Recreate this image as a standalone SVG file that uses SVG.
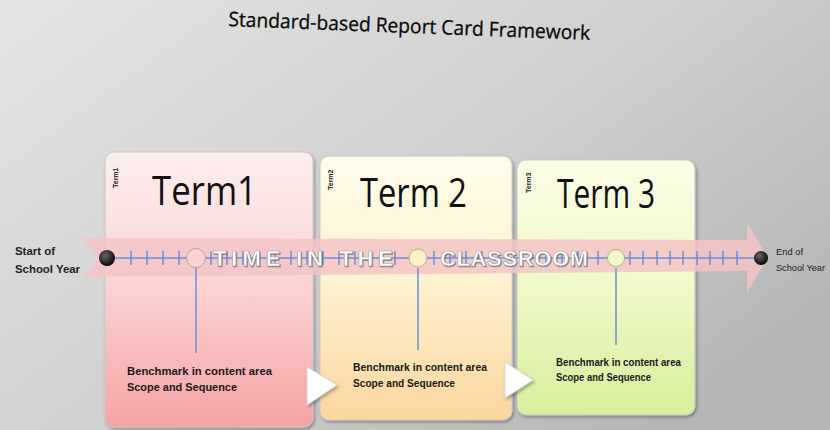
<svg xmlns="http://www.w3.org/2000/svg" width="830" height="430" viewBox="0 0 830 430">
  <defs>
    <linearGradient id="bg" x1="0" y1="0" x2="1" y2="0.7">
      <stop offset="0" stop-color="#e4e4e4"/>
      <stop offset="0.55" stop-color="#d0d0d0"/>
      <stop offset="1" stop-color="#b6b6b6"/>
    </linearGradient>
    <linearGradient id="g1" x1="0" y1="0" x2="0" y2="1">
      <stop offset="0" stop-color="#fdeeee"/>
      <stop offset="0.45" stop-color="#fbd6d6"/>
      <stop offset="1" stop-color="#f6a3a4"/>
    </linearGradient>
    <linearGradient id="g2" x1="0" y1="0" x2="0" y2="1">
      <stop offset="0" stop-color="#fffdeb"/>
      <stop offset="0.45" stop-color="#fdf3d2"/>
      <stop offset="1" stop-color="#fbd69e"/>
    </linearGradient>
    <linearGradient id="g3" x1="0" y1="0" x2="0" y2="1">
      <stop offset="0" stop-color="#fbfde6"/>
      <stop offset="0.45" stop-color="#f2f9cc"/>
      <stop offset="1" stop-color="#d6ef9c"/>
    </linearGradient>
    <radialGradient id="dot" cx="0.4" cy="0.35" r="0.7">
      <stop offset="0" stop-color="#666"/>
      <stop offset="1" stop-color="#000"/>
    </radialGradient>
    <filter id="sh" x="-10%" y="-10%" width="125%" height="125%">
      <feDropShadow dx="1.5" dy="2" stdDeviation="1.5" flood-color="#000" flood-opacity="0.3"/>
    </filter>
    <filter id="tsh" x="-5%" y="-20%" width="110%" height="150%">
      <feDropShadow dx="0.8" dy="1" stdDeviation="0.6" flood-color="#555" flood-opacity="0.7"/>
    </filter>
  </defs>
  <style>
    .card { stroke: #c8c8c8; stroke-width: 1; filter: url(#sh); }
    .big { font-family: "Open Sans", "Liberation Sans", sans-serif; font-size: 40px; fill: #111; }
    .small { font-family: "Liberation Sans", sans-serif; font-size: 7px; font-weight: bold; fill: #222; }
    .bm { font-family: "Liberation Sans", sans-serif; font-size: 11px; font-weight: bold; fill: #1a1a1a; }
    .side { font-family: "Liberation Sans", sans-serif; font-size: 11px; font-weight: bold; fill: #222; }
    .sideR { font-family: "Liberation Sans", sans-serif; font-size: 9.5px; fill: #222; }
    .tl { stroke: #6f8fd2; stroke-width: 1.5; fill: none; }
    .time { font-family: "Liberation Sans", sans-serif; font-size: 22px; font-weight: bold; fill: #ffffff; stroke: #a0a0a0; stroke-width: 0.6; filter: url(#tsh); }
    .tri { fill: #ffffff; stroke: #d8d8d8; stroke-width: 1; filter: url(#sh); }
  </style>
  <rect x="0" y="0" width="830" height="430" fill="url(#bg)"/>

  <g id="title">
    <text x="228" y="33" transform="rotate(2.2 409 35)" font-family="Open Sans, Liberation Sans, sans-serif" font-size="20" fill="#0a0a0a" stroke="#0a0a0a" stroke-width="0.3" textLength="362" lengthAdjust="spacingAndGlyphs">Standard-based Report Card Framework</text>
  </g>

  <g id="term1">
    <rect class="card" x="105" y="152" width="208" height="275" rx="9" fill="url(#g1)"/>
    <text class="small" transform="translate(118 188) rotate(-90)">Term1</text>
    <text class="big" x="152" y="205" textLength="105" lengthAdjust="spacingAndGlyphs">Term1</text>
    <text class="bm" x="127" y="375" textLength="145" lengthAdjust="spacingAndGlyphs">Benchmark in content area</text>
    <text class="bm" x="127" y="391" textLength="110" lengthAdjust="spacingAndGlyphs">Scope and Sequence</text>
  </g>

  <g id="term2">
    <rect class="card" x="320" y="156" width="192" height="264" rx="9" fill="url(#g2)"/>
    <text class="small" transform="translate(333 190) rotate(-90)">Term2</text>
    <text class="big" x="360" y="207" textLength="107" lengthAdjust="spacingAndGlyphs">Term 2</text>
    <text class="bm" x="353" y="371" textLength="134" lengthAdjust="spacingAndGlyphs">Benchmark in content area</text>
    <text class="bm" x="353" y="387" textLength="102" lengthAdjust="spacingAndGlyphs">Scope and Sequence</text>
  </g>

  <g id="term3">
    <rect class="card" x="517" y="160" width="178" height="255" rx="9" fill="url(#g3)"/>
    <text class="small" transform="translate(531 193) rotate(-90)">Term3</text>
    <text class="big" x="557" y="208" textLength="98" lengthAdjust="spacingAndGlyphs">Term 3</text>
    <text class="bm" x="556" y="366" textLength="125" lengthAdjust="spacingAndGlyphs">Benchmark in content area</text>
    <text class="bm" x="556" y="381" textLength="95" lengthAdjust="spacingAndGlyphs">Scope and Sequence</text>
  </g>

  <g id="arrow-band">
    <polygon points="83,238 747,240 747,223 768,257 747,293 747,271 83,277 99,258" fill="#f3c4c6" fill-opacity="0.85"/>
  </g>

  <g id="connectors">
    <line class="tl" x1="107" y1="258" x2="762" y2="258"/>
    <path class="tl" d="M131 251v14M147 251v14M163 251v14M179 251v14M211 251v14M227 251v14M243 251v14M259 251v14M275 251v14M291 251v14M307 251v14M323 251v14M339 251v14M355 251v14M371 251v14M395 251v14M434 251v14M450 251v14M466 251v14M482 251v14M498 251v14M514 251v14M530 251v14M546 251v14M562 251v14M578 251v14M598 251v14M630 251v14M643 251v14M657 251v14M670 251v14M683 251v14M697 251v14M710 251v14M723 251v14M737 251v14"/>
    <line class="tl" x1="196" y1="268" x2="196" y2="353"/>
    <line class="tl" x1="418" y1="268" x2="418" y2="350"/>
    <line class="tl" x1="616" y1="268" x2="616" y2="345"/>
    <polygon class="tri" points="307,367 337,385 307,405"/>
    <polygon class="tri" points="505,362 533,380 505,398"/>
  </g>

  <g id="band-text">
    <text class="time" x="213" y="266" textLength="180" lengthAdjust="spacing">TIME IN THE</text>
    <text class="time" x="440" y="266" textLength="148" lengthAdjust="spacing">CLASSROOM</text>
  </g>

  <g id="start">
    <circle cx="107" cy="258" r="8" fill="url(#dot)"/>
    <text class="side" x="15" y="255" textLength="40" lengthAdjust="spacingAndGlyphs">Start of</text>
    <text class="side" x="15" y="273" textLength="65" lengthAdjust="spacingAndGlyphs">School Year</text>
  </g>

  <g id="end">
    <circle cx="761" cy="258" r="7" fill="url(#dot)"/>
    <text class="sideR" x="776" y="255" textLength="27" lengthAdjust="spacingAndGlyphs">End of</text>
    <text class="sideR" x="776" y="271" textLength="49" lengthAdjust="spacingAndGlyphs">School Year</text>
  </g>

  <g id="milestones">
    <circle cx="196" cy="258" r="9.5" fill="#f9d2d2" stroke="#c79a9a" stroke-width="1"/>
    <circle cx="418" cy="258" r="9" fill="#fbf3c8" stroke="#b9ae82" stroke-width="1"/>
    <circle cx="616" cy="258" r="8.5" fill="#f3f8cc" stroke="#a9b37e" stroke-width="1"/>
  </g>
</svg>
